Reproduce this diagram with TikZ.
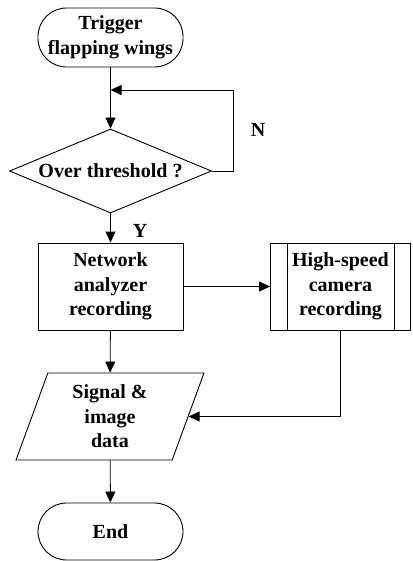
\documentclass[tikz,border=0pt]{standalone}
\usepackage{fontspec}
\setmainfont{Liberation Serif}
\usetikzlibrary{shapes.geometric,arrows.meta}
\begin{document}
\begin{tikzpicture}[x=1pt,y=-1pt,
  every node/.style={font=\fontsize{20}{24.5}\selectfont\bfseries, align=center, inner sep=0pt},
  box/.style={draw, line width=0.9pt, minimum width=145pt, minimum height=87pt},
  term/.style={draw, line width=0.9pt, minimum width=145pt, rounded corners=28.5pt},
  proc/.style={box, minimum width=140pt, path picture={
      \draw[line width=0.9pt] ([xshift=16.5pt]path picture bounding box.north west) -- ([xshift=16.5pt]path picture bounding box.south west);
      \draw[line width=0.9pt] ([xshift=-16pt]path picture bounding box.north east) -- ([xshift=-16pt]path picture bounding box.south east);}},
  dec/.style={draw, line width=0.9pt, diamond, aspect=2.4, minimum width=202pt, minimum height=84pt},
  io/.style={draw, line width=0.9pt, trapezium, trapezium left angle=63.2, trapezium right angle=116.8,
      trapezium stretches body, minimum width=188pt, minimum height=87pt},
  conn/.style={line width=0.9pt},
  arr/.style={conn, -{Triangle[length=11pt,width=10pt]}}]
\useasboundingbox (0,0) rectangle (412,561);
\node[term, minimum height=59pt] (start) at (110.5,37.5) {Trigger\\flapping wings};
\node[dec] (dia) at (110.5,171) {Over threshold ?};
\node[box] (net) at (110.5,286.5) {Network\\analyzer\\recording};
\node[proc] (hs) at (340.5,286.5) {High-speed\\camera\\recording};
\node[io] (data) at (110,416.5) {Signal \&\\image\\data};
\node[term, minimum height=57pt] (end) at (110.5,531.5) {End};
\node (N) at (258,130) {N};
\node (Y) at (140,231) {Y};
\coordinate (loopc) at (233,90);
\coordinate (join) at (110.5,90);
\draw[arr] (start) -- (dia);
\draw[arr] (dia.east) -| (loopc) -- (join);
\draw[arr] (dia) -- (net);
\draw[arr] (net) -- (hs);
\draw[arr] (net) -- (data);
\draw[arr] (hs.south) |- (data.east);
\draw[arr] (data) -- (end);
\end{tikzpicture}
\end{document}
